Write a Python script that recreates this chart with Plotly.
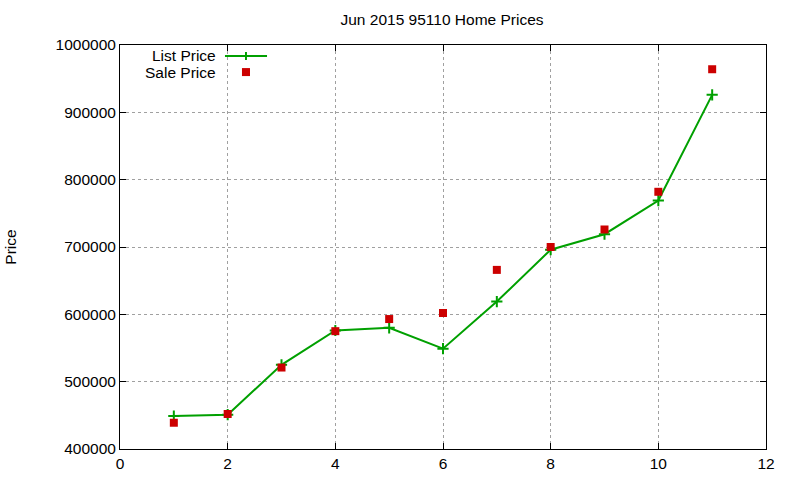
import plotly.graph_objects as go

x_vals = [1, 2, 3, 4, 5, 6, 7, 8, 9, 10, 11]
list_price = [449000, 451000, 525000, 576000, 580000, 549000, 619000, 696000, 719000, 769000, 926000]
sale_price = [439000, 452000, 521000, 575000, 593000, 602000, 666000, 700000, 726000, 782000, 964000]
x_ticks = [0, 2, 4, 6, 8, 10, 12]
y_ticks = [400000, 500000, 600000, 700000, 800000, 900000, 1000000]

GREEN = "#00a000"
RED = "#cc0000"
FONT = "Liberation Sans, Arial, sans-serif"
FS = 15.5

fig = go.Figure()
fig.add_trace(go.Scatter(
    x=x_vals, y=list_price, mode="lines+markers", name="List Price",
    line=dict(color=GREEN, width=2),
    marker=dict(symbol="cross-thin", size=8, line=dict(color=GREEN, width=2)),
    showlegend=False,
))
fig.add_trace(go.Scatter(
    x=x_vals, y=sale_price, mode="markers", name="Sale Price",
    marker=dict(symbol="square", size=8, color=RED),
    showlegend=False,
))

# gnuplot-style legend: text on left, sample on right
leg_text_x = 0.1517
fig.add_annotation(xref="paper", yref="paper", x=leg_text_x, y=0.9728, text="List Price",
                   showarrow=False, xanchor="right", yanchor="middle",
                   font=dict(family=FONT, size=FS, color="black"))
fig.add_annotation(xref="paper", yref="paper", x=leg_text_x, y=0.933, text="Sale Price",
                   showarrow=False, xanchor="right", yanchor="middle",
                   font=dict(family=FONT, size=FS, color="black"))
fig.add_shape(type="line", xref="paper", yref="paper", x0=0.1625, x1=0.2276, y0=0.9728, y1=0.9728,
              line=dict(color=GREEN, width=2))
fig.add_shape(type="line", xref="paper", yref="paper", x0=0.195, x1=0.195, y0=0.9728 - 0.0099, y1=0.9728 + 0.0099,
              line=dict(color=GREEN, width=2))
fig.add_shape(type="rect", xref="paper", yref="paper", x0=0.195 - 0.0062, x1=0.195 + 0.0062,
              y0=0.933 - 0.0099, y1=0.933 + 0.0099, line=dict(width=0), fillcolor=RED)

axis_common = dict(
    showline=True, linecolor="black", linewidth=1, mirror="ticks",
    ticks="inside", ticklen=6, tickcolor="black",
    showgrid=True, gridcolor="#a0a0a0", griddash="dot", gridwidth=1,
    zeroline=False, tickfont=dict(family=FONT, size=FS, color="black"),
    automargin=False,
)
fig.update_xaxes(range=[0, 12], tickvals=x_ticks, ticktext=[str(v) for v in x_ticks], **axis_common)
fig.update_yaxes(range=[400000, 1000000], tickvals=y_ticks, ticktext=[str(v) for v in y_ticks],
                 title=dict(text="Price", font=dict(family=FONT, size=FS, color="black"), standoff=35),
                 **axis_common)

fig.update_layout(
    width=800, height=480,
    margin=dict(l=120, r=34, t=45, b=31),
    paper_bgcolor="white", plot_bgcolor="white",
    title=dict(text="Jun 2015 95110 Home Prices", x=0.5525, xanchor="center", y=1 - 20 / 480, yanchor="middle",
               font=dict(family=FONT, size=FS, color="black")),
)

fig.write_html("out.html")
